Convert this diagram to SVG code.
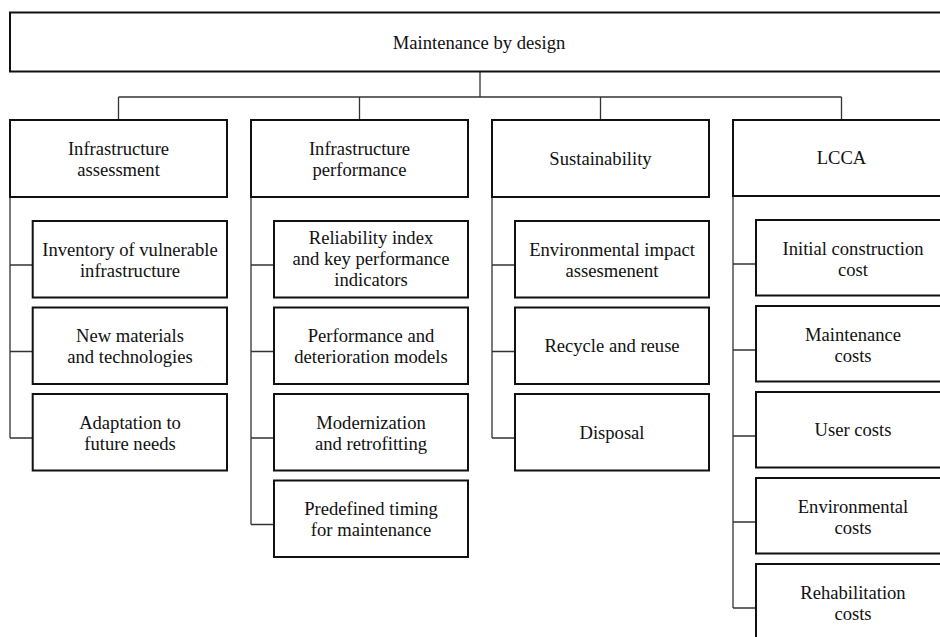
<svg xmlns="http://www.w3.org/2000/svg" width="940" height="637" viewBox="0 0 940 637">
<style>
.box{fill:#fff;stroke:#111;stroke-width:2}
.ln{fill:none;stroke:#333;stroke-width:1.3}
text{font-family:"Liberation Serif","Times New Roman",serif;font-size:18.6px;fill:#111;text-anchor:middle}
</style>
<rect width="940" height="637" fill="#fff"/>
<g id="connectors" class="ln">
<path d="M480 72V97M118.5 97H841.5M118.5 97V120M359.5 97V120M600.5 97V120M841.5 97V120"/>
<path d="M10 197V438M10 265H32.7M10 351.5H32.7M10 438H32.7"/>
<path d="M251 197V524.5M251 265H274M251 351.5H274M251 438H274M251 524.5H274"/>
<path d="M492 197V438M492 265H515M492 351.5H515M492 438H515"/>
<path d="M733 196V608M733 264H756M733 350H756M733 436H756M733 522H756M733 608H756"/>
</g>
<g id="root"><rect class="box" x="10" y="12.5" width="940" height="59"/><text x="479" y="49">Maintenance by design</text></g>
<g id="infra-assessment"><rect class="box" x="10" y="120" width="217" height="77"/><text x="118.5" y="154.5">Infrastructure</text><text x="118.5" y="175.5">assessment</text></g>
<g id="infra-performance"><rect class="box" x="251" y="120" width="217" height="77"/><text x="359.5" y="154.5">Infrastructure</text><text x="359.5" y="175.5">performance</text></g>
<g id="sustainability"><rect class="box" x="492" y="120" width="217" height="77"/><text x="600.5" y="164.5">Sustainability</text></g>
<g id="lcca"><rect class="box" x="733" y="120" width="217" height="76"/><text x="841.5" y="164">LCCA</text></g>

<g id="inventory"><rect class="box" x="32.7" y="221" width="194.3" height="76.5"/><text x="130" y="255.5">Inventory of vulnerable</text><text x="130" y="276.5">infrastructure</text></g>
<g id="new-materials"><rect class="box" x="32.7" y="307.5" width="194.3" height="76.5"/><text x="130" y="342">New materials</text><text x="130" y="363">and technologies</text></g>
<g id="adaptation"><rect class="box" x="32.7" y="394" width="194.3" height="76.5"/><text x="130" y="428.5">Adaptation to</text><text x="130" y="449.5">future needs</text></g>

<g id="reliability"><rect class="box" x="274" y="221" width="194" height="76.5"/><text x="371" y="244">Reliability index</text><text x="371" y="265">and key performance</text><text x="371" y="286">indicators</text></g>
<g id="deterioration"><rect class="box" x="274" y="307.5" width="194" height="76.5"/><text x="371" y="342">Performance and</text><text x="371" y="363">deterioration models</text></g>
<g id="modernization"><rect class="box" x="274" y="394" width="194" height="76.5"/><text x="371" y="428.5">Modernization</text><text x="371" y="449.5">and retrofitting</text></g>
<g id="timing"><rect class="box" x="274" y="480.5" width="194" height="76.5"/><text x="371" y="515">Predefined timing</text><text x="371" y="536">for maintenance</text></g>

<g id="env-impact"><rect class="box" x="515" y="221" width="194" height="76.5"/><text x="612" y="255.5">Environmental impact</text><text x="612" y="276.5">assesmenent</text></g>
<g id="recycle"><rect class="box" x="515" y="307.5" width="194" height="76.5"/><text x="612" y="352">Recycle and reuse</text></g>
<g id="disposal"><rect class="box" x="515" y="394" width="194" height="76.5"/><text x="612" y="438.5">Disposal</text></g>

<g id="initial-cost"><rect class="box" x="756" y="220" width="194" height="75.5"/><text x="853" y="254.5">Initial construction</text><text x="853" y="275.5">cost</text></g>
<g id="maintenance-costs"><rect class="box" x="756" y="306" width="194" height="75.5"/><text x="853" y="340.5">Maintenance</text><text x="853" y="361.5">costs</text></g>
<g id="user-costs"><rect class="box" x="756" y="392" width="194" height="75.5"/><text x="853" y="436">User costs</text></g>
<g id="env-costs"><rect class="box" x="756" y="478" width="194" height="75.5"/><text x="853" y="512.5">Environmental</text><text x="853" y="533.5">costs</text></g>
<g id="rehab-costs"><rect class="box" x="756" y="564" width="194" height="80"/><text x="853" y="598.5">Rehabilitation</text><text x="853" y="619.5">costs</text></g>
</svg>
